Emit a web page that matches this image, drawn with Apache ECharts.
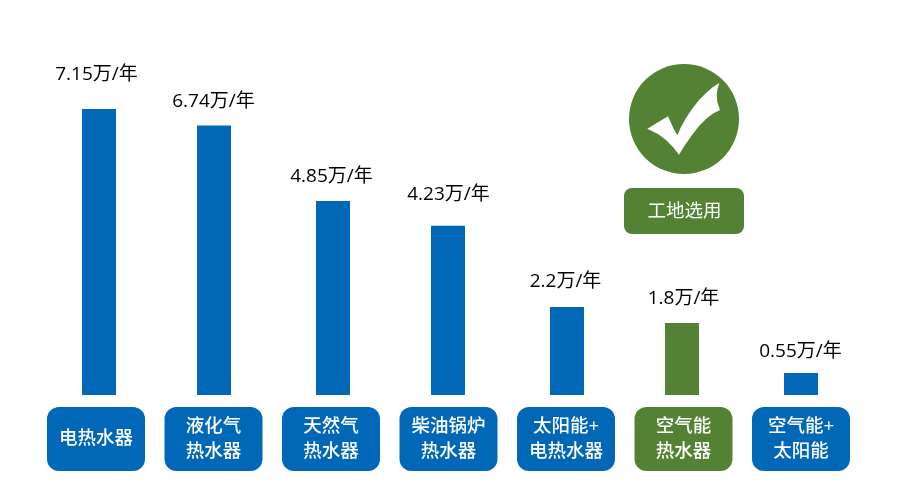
<!DOCTYPE html>
<html><head><meta charset="utf-8">
<style>html,body{margin:0;padding:0;background:#fff}#c{width:900px;height:490px}</style>
<script src="https://cdn.jsdelivr.net/npm/echarts@6/dist/echarts.min.js"></script>
</head><body><div id="c"></div>
<script>
const categories = ['电热水器','液化气\n热水器','天然气\n热水器','柴油锅炉\n热水器','太阳能+\n电热水器','空气能\n热水器','空气能+\n太阳能'];
const annualCost = [7.15,6.74,4.85,4.23,2.2,1.8,0.55];
const costUnit = '万/年';
const chosenCategory = '空气能\n热水器';
const badgeText = '工地选用';

const BLUE='#0068B7', GREEN='#548235';
const FONT='"Open Sans","Noto Sans CJK SC",sans-serif';
const colorOf = c => c===chosenCategory ? GREEN : BLUE;
const labelShift=[-2.5,-0.5,-1.5,0.5,-1.5,1.5,-0.5];
const labelGap=[34,24,24,31,25,24,21];
const checkOutline=[[647.3,128.7],[668,116.3],[671,123],[674,129.5],[677.3,135.3],[681,127],[686,118],[692,109],[699,100],[706,93],[713,87],[719.3,83],[717.5,89],[716.7,95],[717.3,102],[720,110],[713,113.5],[706,119],[699,126],[692,135],[685,145],[679,154.7],[673,147],[666,140],[658,134]];
const PILL_H=64, LINE_H=25;

const chart = echarts.init(document.getElementById('c'));
const yAxis = i => ({type:'value',gridIndex:i,min:0,max:8,show:false});
const pillPad = c => (PILL_H - LINE_H*c.split('\n').length)/2;
const barSeries = (axis, keep) => ({
  type:'bar',xAxisIndex:axis,yAxisIndex:axis,barWidth:34,silent:true,
  data:annualCost.map((v,i)=> keep(i) ? {
    value:v,
    itemStyle:{color:colorOf(categories[i])},
    label:{show:true,position:'top',distance:labelGap[i],offset:[labelShift[i],0],verticalAlign:'middle',
      formatter:v+costUnit,color:'#000',fontSize:19,fontFamily:FONT}
  } : null)
});
chart.setOption({
  animation:false,
  backgroundColor:'#fff',
  grid:[
    {left:37.25,width:822.5,top:75,height:320},
    {left:40.5,width:819,top:75,height:320},
    {left:38.5,width:819,top:75,height:320}
  ],
  xAxis:[
    {type:'category',gridIndex:0,axisLine:{show:false},axisTick:{show:false},
     data:categories.map(c=>({value:c,textStyle:{backgroundColor:colorOf(c),padding:[pillPad(c),0,pillPad(c),0]}})),
     axisLabel:{interval:0,margin:12,color:'#fff',fontSize:18.5,lineHeight:LINE_H,fontFamily:FONT,fontWeight:500,
       width:98,borderRadius:12,align:'center',verticalAlign:'top'}},
    {type:'category',gridIndex:1,data:categories,show:false},
    {type:'category',gridIndex:2,data:categories,show:false}
  ],
  yAxis:[yAxis(0),yAxis(1),yAxis(2)],
  series:[
    {type:'bar',xAxisIndex:0,yAxisIndex:0,data:[],silent:true},
    barSeries(1,i=>i%2===0),
    barSeries(2,i=>i%2===1)
  ],
  graphic:[
    {type:'circle',shape:{cx:684,cy:119,r:55},style:{fill:GREEN},silent:true},
    {type:'polygon',silent:true,shape:{points:checkOutline},style:{fill:'#fff'}},
    {type:'rect',silent:true,shape:{x:624,y:188,width:120,height:46,r:8},style:{fill:GREEN}},
    {type:'text',silent:true,style:{x:684.5,y:212,text:badgeText,fill:'#fff',font:'18.5px '+FONT,align:'center',verticalAlign:'middle'}}
  ]
});
</script></body></html>
